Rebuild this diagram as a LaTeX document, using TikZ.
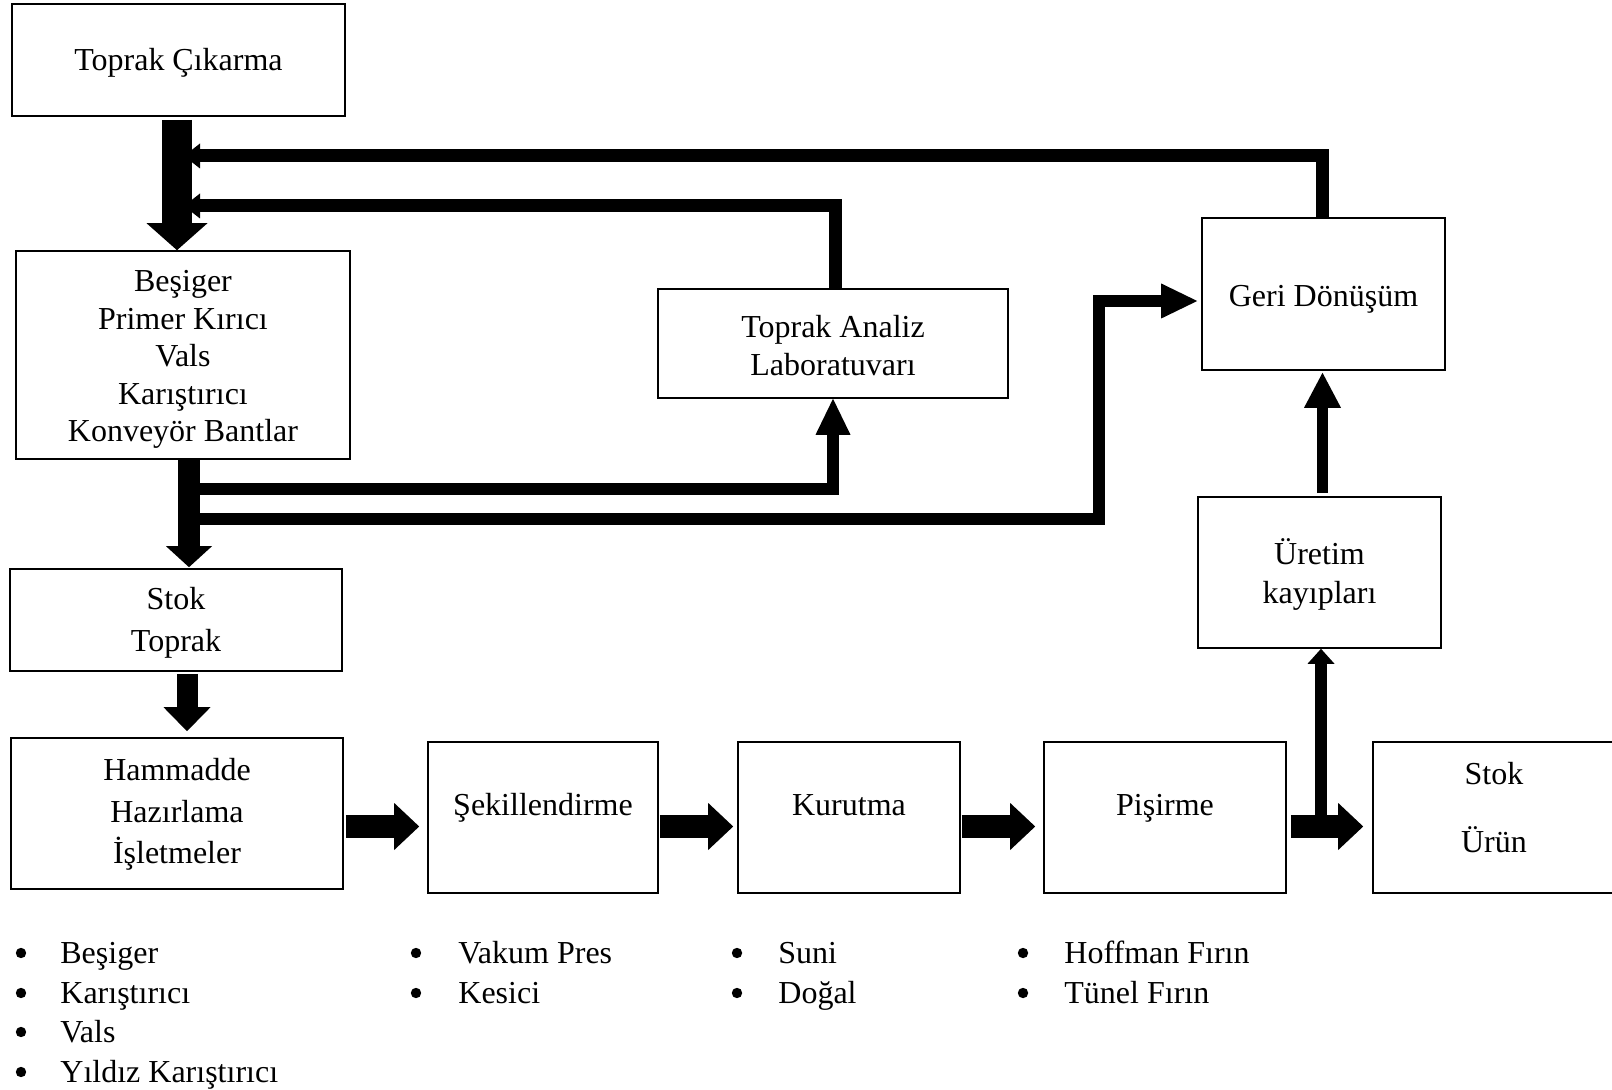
\documentclass[tikz,border=0pt]{standalone}
\usepackage{fontspec}
\setmainfont{Liberation Serif}
\usetikzlibrary{arrows.meta,calc}
\begin{document}
\begin{tikzpicture}[x=0.5pt,y=-0.5pt,
  fnt/.style={font=\fontsize{16pt}{18.75pt}\selectfont},
  box/.style={draw, line width=0.8pt, inner sep=0pt},
  txt/.style={inner sep=0pt, align=center, fnt},
  itm/.style={anchor=base west, inner sep=0pt, fnt},
  bigA/.style={line width=15pt, -{Triangle[width=30.5pt,length=13.5pt,line width=0pt]}},
  midA/.style={line width=11pt, -{Triangle[width=23pt,length=10.5pt,line width=0pt]}},
  midB/.style={line width=10.5pt, -{Triangle[width=23.5pt,length=12pt,line width=0pt]}},
  flow/.style={line width=11.5pt, -{Triangle[width=23.5pt,length=12.5pt,line width=0pt]}},
  upthin/.style={line width=6pt, -{Triangle[width=13.5pt,length=7.5pt,line width=0pt]}},
  upG/.style={line width=5.5pt, -{Triangle[width=18.5pt,length=17.5pt,line width=0pt]}},
  branch/.style={line width=6pt, line join=miter, -{Triangle[width=17.5pt,length=18pt,line width=0pt]}},
  fb/.style={line width=6.5pt, line join=miter, -{Triangle[width=12.5pt,length=8pt,line width=0pt]}}
]
\useasboundingbox (0,0) rectangle (1612,1090);
\clip (0,0) rectangle (1612,1090);

% boxes
\node[box, minimum width=166.5pt, minimum height=56pt] (tc) at (178.5,60) {};
\node[txt] (tct) at (178.5,63) {Toprak Çıkarma};
\node[box, minimum width=167pt, minimum height=104pt] (bes) at (183,355) {};
\node[txt] (best) at (183,359.5) {Beşiger\\Primer Kırıcı\\Vals\\Karıştırıcı\\Konveyör Bantlar};
\node[box, minimum width=175pt, minimum height=54.5pt] (lab) at (833,343.5) {};
\node[txt] (labt) at (833,345.5) {Toprak Analiz\\Laboratuvarı};
\node[box, minimum width=121.5pt, minimum height=76pt] (geri) at (1323.5,294) {};
\node[txt] (gerit) at (1323.5,299) {Geri Dönüşüm};
\node[box, minimum width=121.5pt, minimum height=75.5pt] (uret) at (1319.5,572.5) {};
\node[txt] (urett) at (1319.5,574.5) {Üretim\\[0.75pt]kayıpları};
\node[box, minimum width=166pt, minimum height=51pt] (stk) at (176,620) {};
\node[txt] (stkt) at (176,623) {Stok\\[2.25pt]Toprak};
\node[box, minimum width=166pt, minimum height=75.5pt] (ham) at (177,813.5) {};
\node[txt] (hamt) at (177,814.5) {Hammadde\\[2pt]Hazırlama\\[2pt]İşletmeler};
\node[box, minimum width=115pt, minimum height=75.5pt] (sek) at (543,817.5) {};
\node[txt] (sekt) at (543,808) {Şekillendirme};
\node[box, minimum width=111pt, minimum height=75.5pt] (kur) at (849,817.5) {};
\node[txt] (kurt) at (849,805) {Kurutma};
\node[box, minimum width=121pt, minimum height=75.5pt] (pis) at (1165,817.5) {};
\node[txt] (pist) at (1165,808) {Pişirme};
\node[box, minimum width=121pt, minimum height=75.5pt] (sur) at (1494,817.5) {};
\node[txt] (surt) at (1494,808) {Stok\\[15.25pt]Ürün};

% helper coordinates
\coordinate (f1) at (184,156);
\coordinate (f2) at (184,206);
\coordinate (b1) at (189,489);
\coordinate (b2) at (189,519);
\coordinate (k2) at (1099,301);
\coordinate (gw) at ([xshift=-2pt]geri.west);
\coordinate (j) at (1321,815);

% feedback lines (under the main shaft)
\draw[fb] ([xshift=-0.75pt]geri.north) |- (f1);
\draw[fb] ([xshift=1pt]lab.north) |- (f2);

% main vertical flow
\draw[bigA] ([xshift=-0.75pt,yshift=-1.5pt]tc.south) -- ([xshift=-3pt]bes.north);
\draw[branch] (b1) -| (lab.south);
\draw[branch] (b2) -| (k2) -- (gw |- k2);
\draw[midA] ([xshift=3pt]bes.south) -- ([xshift=6.5pt,yshift=0.5pt]stk.north);
\draw[midB] ([xshift=5.5pt,yshift=-1pt]stk.south) -- ([xshift=5pt,yshift=3pt]ham.north);

% bottom flow
\draw[flow] ([xshift=1pt,yshift=-6.5pt]ham.east) -- ([xshift=-4pt,yshift=-4.5pt]sek.west);
\draw[flow] ([xshift=0.5pt,yshift=-4.5pt]sek.east) -- ([xshift=-2pt,yshift=-4.5pt]kur.west);
\draw[flow] ([xshift=0.5pt,yshift=-4.5pt]kur.east) -- ([xshift=-4pt,yshift=-4.5pt]pis.west);
\draw[flow] ([xshift=2pt,yshift=-4.5pt]pis.east) -- ([xshift=-4.5pt,yshift=-4.5pt]sur.west);

% losses and recycling
\draw[upthin] (j) -- (uret.south -| j);
\draw[upG] ([xshift=1.5pt,yshift=1.5pt]uret.north) -- ([xshift=-0.5pt,yshift=-1pt]geri.south);

% bullet lists
\foreach \bx/\by/\bn in {21/953/p11, 21/993/p12, 21/1032/p13, 21/1072/p14,
                         416/953/p21, 416/993/p22, 737/953/p31, 737/993/p32,
                         1023/953/p41, 1023/993/p42}{
  \coordinate (\bn) at (\bx,\by);
  \fill (\bn) circle (2.6pt);
}
\node[itm] (i11) at (60,963) {Beşiger};
\node[itm] (i12) at (60,1003) {Karıştırıcı};
\node[itm] (i13) at (60,1042) {Vals};
\node[itm] (i14) at (60,1082) {Yıldız Karıştırıcı};
\node[itm] (i21) at (458,963) {Vakum Pres};
\node[itm] (i22) at (458,1003) {Kesici};
\node[itm] (i31) at (778,963) {Suni};
\node[itm] (i32) at (778,1003) {Doğal};
\node[itm] (i41) at (1064,963) {Hoffman Fırın};
\node[itm] (i42) at (1064,1003) {Tünel Fırın};
\end{tikzpicture}
\end{document}
